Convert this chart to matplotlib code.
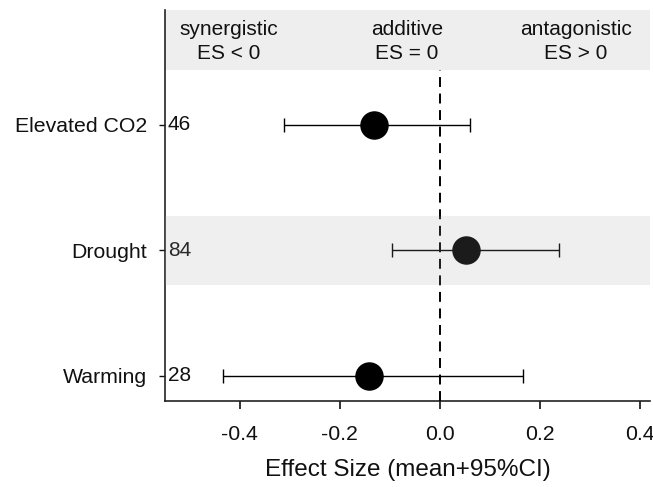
import numpy as np
import matplotlib
matplotlib.use("Agg")
import matplotlib.pyplot as plt

plt.rcParams["font.family"] = ["Liberation Sans", "DejaVu Sans"]

# effect sizes (mean and 95% CI) per global-change driver
drivers = ["Elevated CO2", "Drought", "Warming"]
n_studies = [46, 84, 28]
es_mean = [-0.132, 0.053, -0.142]
ci_low = [-0.311, -0.095, -0.434]
ci_high = [0.060, 0.239, 0.166]

zones = ["synergistic\nES < 0", "additive\nES = 0", "antagonistic\nES > 0"]
xticks = [-0.4, -0.2, 0.0, 0.2, 0.4]

ypos = np.arange(len(drivers))[::-1] + 1.0   # top row first
band_lo, band_hi = 3.44, 3.916

fig = plt.figure(figsize=(6.53, 4.87), dpi=100)
ax = fig.add_axes([165 / 653, 86 / 487, (650 - 165) / 653, (401 - 10) / 487])
ax.set_xlim(-0.549, 0.421)
ax.set_ylim(0.80, band_hi)

# header band with interaction labels
ax.axhspan(band_lo, band_hi, color="#eeeeee", lw=0, zorder=0)
for xf, lab in zip([0.132, 0.499, 0.847], zones):
    ax.text(xf, (band_lo + band_hi) / 2 - 0.014, lab, transform=ax.get_yaxis_transform(),
            ha="center", va="center", fontsize=15, linespacing=1.3, color="#111111")

err = [np.array(es_mean) - np.array(ci_low), np.array(ci_high) - np.array(es_mean)]
ax.errorbar(es_mean, ypos, xerr=err, fmt="none", ecolor="black", elinewidth=1.0,
            capsize=4.7, capthick=1.0, zorder=2)
ax.plot(es_mean, ypos, "o", color="black", markersize=19.5, zorder=3)

# zero line stops at the header band
ax.plot([0, 0], [0.80, band_lo], color="black", lw=1.4, dashes=(5.1, 3.4), zorder=4)

# shaded middle row, drawn translucent over the marks
mid = ypos[1]
ax.axhspan(mid - 0.277, mid + 0.277, color=(0.635, 0.635, 0.635), alpha=0.17, lw=0, zorder=5)

for y, n in zip(ypos, n_studies):
    ax.text(0.006, y, str(n), transform=ax.get_yaxis_transform(), ha="left",
            va="center", fontsize=15, color="#111111")

ax.set_yticks(ypos)
ax.set_yticklabels(drivers, fontsize=15.3)
ax.set_xticks(xticks)
ax.set_xticklabels([f"{v:.1f}" for v in xticks], fontsize=15.3)
ax.tick_params(axis="y", length=4, width=1.0, pad=9, colors="#111111")
ax.tick_params(axis="x", length=6, width=1.2, pad=11, colors="#111111")
ax.set_xlabel("Effect Size (mean+95%CI)", fontsize=17.5, labelpad=11, color="#111111")

for side in ["top", "right"]:
    ax.spines[side].set_visible(False)
for side in ["left", "bottom"]:
    ax.spines[side].set_linewidth(1.2)
    ax.spines[side].set_color("#222222")

fig.savefig("out.png", dpi=100)
